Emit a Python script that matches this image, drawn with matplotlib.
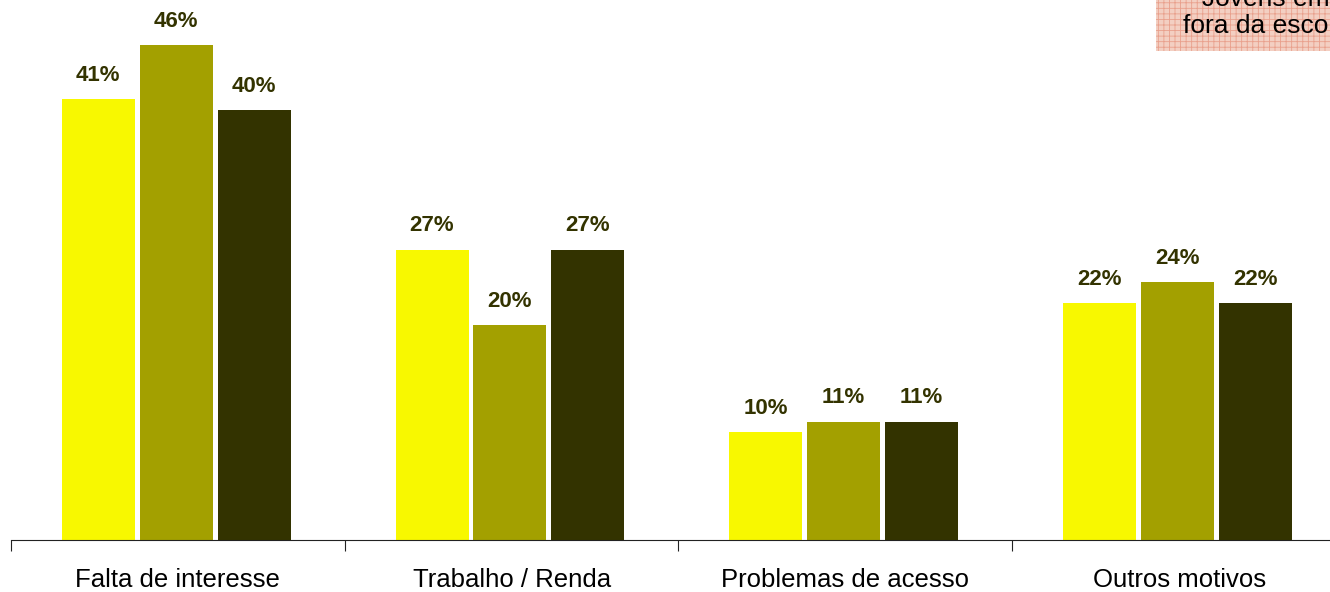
import numpy as np
import matplotlib.pyplot as plt
from matplotlib.patches import Rectangle

plt.rcParams['font.family'] = ['Liberation Sans', 'DejaVu Sans']
plt.rcParams['hatch.linewidth'] = 0.6

categories = ["Falta de interesse", "Trabalho / Renda", "Problemas de acesso", "Outros motivos"]
serie_a = [41, 27, 10, 22]
serie_b = [46, 20, 11, 24]
serie_c = [40, 27, 11, 22]
colors = ["#F8F800", "#A3A000", "#333300"]

fig = plt.figure(figsize=(13.3, 5.92), dpi=100)
# axes runs past the right edge, like the original slide crop
ax = fig.add_axes([11 / 1330, 52 / 592, 1335 / 1330, 540 / 592])

x = np.arange(len(categories))
step = 0.2335
width = 0.2186
for i, (vals, c) in enumerate(zip([serie_a, serie_b, serie_c], colors)):
    pos = x + (i - 1) * step - 0.005
    ax.bar(pos, vals, width=width, color=c)
    for p, v in zip(pos, vals):
        ax.annotate(f"{v}%", (p, v), xytext=(0, 9.5), textcoords="offset points",
                    ha="center", va="bottom", fontsize=16, fontweight="bold",
                    color="#333300")

ax.set_xlim(-0.5, 3.5)
ax.set_ylim(0, 50.2)
for s in ["top", "right", "left"]:
    ax.spines[s].set_visible(False)
ax.spines["bottom"].set_color("#222222")
ax.set_yticks([])
ax.set_xticks(np.arange(-0.5, 4.0, 1.0), minor=False)
ax.set_xticklabels([])
ax.tick_params(axis="x", length=8, direction="out", color="#222222")
ax.set_xticks(x, minor=True)
ax.set_xticklabels(categories, minor=True, fontsize=18.5)
ax.tick_params(axis="x", which="minor", length=0, pad=20)

# partial hatched label box at the top right corner
box = Rectangle((1156 / 1330, 1 - 51 / 592), 0.2, 0.2, transform=fig.transFigure,
                facecolor="#F3CFC2", edgecolor="#E9A08C", hatch="+++", linewidth=0)
fig.patches.append(box)
fig.text(1266 / 1330, 1 - 33 / 592, "fora da escola", fontsize=19, ha="center",
         va="baseline")
fig.text(1266 / 1330, 1 - 6 / 592, "Jovens em", fontsize=19, ha="center",
         va="baseline")

fig.savefig("out.png", dpi=100)
